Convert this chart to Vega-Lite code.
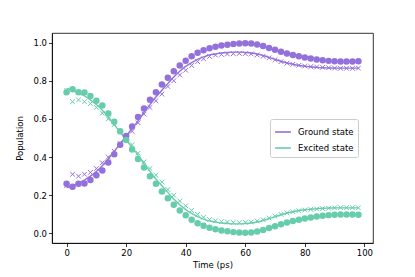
{
  "$schema": "https://vega.github.io/schema/vega-lite/v6.json",
  "autosize": {"type": "none"},
  "padding": {"left": 52, "top": 33, "right": 42, "bottom": 34},
  "width": 321,
  "height": 210,
  "config": {
    "font": "DejaVu Sans",
    "view": {"stroke": "black", "strokeWidth": 0.8},
    "axis": {"grid": false, "domainColor": "black", "domainWidth": 0.8, "tickColor": "black", "tickWidth": 0.8, "tickSize": 3.5, "labelFontSize": 8.5, "titleFontSize": 8.5, "labelColor": "black", "titleColor": "black", "titleFontWeight": "normal", "labelPadding": 2}
  },
  "data": {"values": [
    {"t":0,"state":"Ground state","line":0.24,"cross":0.25,"dot":0.26},
    {"t":2,"state":"Ground state","line":0.25,"cross":0.31,"dot":0.245},
    {"t":4,"state":"Ground state","line":0.265,"cross":0.30,"dot":0.26},
    {"t":6,"state":"Ground state","line":0.28,"cross":0.31,"dot":0.262},
    {"t":8,"state":"Ground state","line":0.30,"cross":0.32,"dot":0.28},
    {"t":10,"state":"Ground state","line":0.325,"cross":0.34,"dot":0.305},
    {"t":12,"state":"Ground state","line":0.355,"cross":0.37,"dot":0.33},
    {"t":14,"state":"Ground state","line":0.39,"cross":0.40,"dot":0.372},
    {"t":16,"state":"Ground state","line":0.43,"cross":0.43,"dot":0.415},
    {"t":18,"state":"Ground state","line":0.47,"cross":0.47,"dot":0.465},
    {"t":20,"state":"Ground state","line":0.51,"cross":0.50,"dot":0.51},
    {"t":22,"state":"Ground state","line":0.55,"cross":0.535,"dot":0.56},
    {"t":24,"state":"Ground state","line":0.59,"cross":0.58,"dot":0.61},
    {"t":26,"state":"Ground state","line":0.635,"cross":0.625,"dot":0.655},
    {"t":28,"state":"Ground state","line":0.675,"cross":0.66,"dot":0.70},
    {"t":30,"state":"Ground state","line":0.715,"cross":0.695,"dot":0.74},
    {"t":32,"state":"Ground state","line":0.75,"cross":0.73,"dot":0.78},
    {"t":34,"state":"Ground state","line":0.785,"cross":0.77,"dot":0.815},
    {"t":36,"state":"Ground state","line":0.82,"cross":0.80,"dot":0.85},
    {"t":38,"state":"Ground state","line":0.85,"cross":0.83,"dot":0.88},
    {"t":40,"state":"Ground state","line":0.875,"cross":0.855,"dot":0.905},
    {"t":42,"state":"Ground state","line":0.895,"cross":0.88,"dot":0.928},
    {"t":44,"state":"Ground state","line":0.912,"cross":0.90,"dot":0.947},
    {"t":46,"state":"Ground state","line":0.925,"cross":0.915,"dot":0.96},
    {"t":48,"state":"Ground state","line":0.935,"cross":0.927,"dot":0.97},
    {"t":50,"state":"Ground state","line":0.94,"cross":0.934,"dot":0.978},
    {"t":52,"state":"Ground state","line":0.945,"cross":0.938,"dot":0.984},
    {"t":54,"state":"Ground state","line":0.948,"cross":0.94,"dot":0.989},
    {"t":56,"state":"Ground state","line":0.95,"cross":0.942,"dot":0.993},
    {"t":58,"state":"Ground state","line":0.95,"cross":0.943,"dot":0.995},
    {"t":60,"state":"Ground state","line":0.948,"cross":0.942,"dot":0.996},
    {"t":62,"state":"Ground state","line":0.945,"cross":0.94,"dot":0.995},
    {"t":64,"state":"Ground state","line":0.94,"cross":0.935,"dot":0.99},
    {"t":66,"state":"Ground state","line":0.932,"cross":0.928,"dot":0.982},
    {"t":68,"state":"Ground state","line":0.922,"cross":0.92,"dot":0.972},
    {"t":70,"state":"Ground state","line":0.912,"cross":0.91,"dot":0.962},
    {"t":72,"state":"Ground state","line":0.902,"cross":0.90,"dot":0.952},
    {"t":74,"state":"Ground state","line":0.893,"cross":0.892,"dot":0.943},
    {"t":76,"state":"Ground state","line":0.886,"cross":0.886,"dot":0.935},
    {"t":78,"state":"Ground state","line":0.88,"cross":0.881,"dot":0.928},
    {"t":80,"state":"Ground state","line":0.876,"cross":0.877,"dot":0.922},
    {"t":82,"state":"Ground state","line":0.873,"cross":0.874,"dot":0.916},
    {"t":84,"state":"Ground state","line":0.87,"cross":0.872,"dot":0.911},
    {"t":86,"state":"Ground state","line":0.868,"cross":0.87,"dot":0.907},
    {"t":88,"state":"Ground state","line":0.867,"cross":0.868,"dot":0.904},
    {"t":90,"state":"Ground state","line":0.866,"cross":0.866,"dot":0.902},
    {"t":92,"state":"Ground state","line":0.866,"cross":0.865,"dot":0.901},
    {"t":94,"state":"Ground state","line":0.866,"cross":0.865,"dot":0.901},
    {"t":96,"state":"Ground state","line":0.866,"cross":0.865,"dot":0.901},
    {"t":98,"state":"Ground state","line":0.866,"cross":0.866,"dot":0.902},
    {"t":0,"state":"Excited state","line":0.76,"cross":0.75,"dot":0.74},
    {"t":2,"state":"Excited state","line":0.75,"cross":0.69,"dot":0.755},
    {"t":4,"state":"Excited state","line":0.735,"cross":0.70,"dot":0.74},
    {"t":6,"state":"Excited state","line":0.72,"cross":0.69,"dot":0.738},
    {"t":8,"state":"Excited state","line":0.70,"cross":0.68,"dot":0.72},
    {"t":10,"state":"Excited state","line":0.675,"cross":0.66,"dot":0.695},
    {"t":12,"state":"Excited state","line":0.645,"cross":0.63,"dot":0.67},
    {"t":14,"state":"Excited state","line":0.61,"cross":0.60,"dot":0.628},
    {"t":16,"state":"Excited state","line":0.57,"cross":0.57,"dot":0.585},
    {"t":18,"state":"Excited state","line":0.53,"cross":0.53,"dot":0.535},
    {"t":20,"state":"Excited state","line":0.49,"cross":0.50,"dot":0.49},
    {"t":22,"state":"Excited state","line":0.45,"cross":0.465,"dot":0.44},
    {"t":24,"state":"Excited state","line":0.41,"cross":0.42,"dot":0.39},
    {"t":26,"state":"Excited state","line":0.365,"cross":0.375,"dot":0.345},
    {"t":28,"state":"Excited state","line":0.325,"cross":0.34,"dot":0.30},
    {"t":30,"state":"Excited state","line":0.285,"cross":0.305,"dot":0.26},
    {"t":32,"state":"Excited state","line":0.25,"cross":0.27,"dot":0.22},
    {"t":34,"state":"Excited state","line":0.215,"cross":0.23,"dot":0.185},
    {"t":36,"state":"Excited state","line":0.18,"cross":0.20,"dot":0.15},
    {"t":38,"state":"Excited state","line":0.15,"cross":0.17,"dot":0.12},
    {"t":40,"state":"Excited state","line":0.125,"cross":0.145,"dot":0.095},
    {"t":42,"state":"Excited state","line":0.105,"cross":0.12,"dot":0.072},
    {"t":44,"state":"Excited state","line":0.088,"cross":0.10,"dot":0.053},
    {"t":46,"state":"Excited state","line":0.075,"cross":0.085,"dot":0.04},
    {"t":48,"state":"Excited state","line":0.065,"cross":0.073,"dot":0.03},
    {"t":50,"state":"Excited state","line":0.06,"cross":0.066,"dot":0.022},
    {"t":52,"state":"Excited state","line":0.055,"cross":0.062,"dot":0.016},
    {"t":54,"state":"Excited state","line":0.052,"cross":0.06,"dot":0.011},
    {"t":56,"state":"Excited state","line":0.05,"cross":0.058,"dot":0.007},
    {"t":58,"state":"Excited state","line":0.05,"cross":0.057,"dot":0.005},
    {"t":60,"state":"Excited state","line":0.052,"cross":0.058,"dot":0.004},
    {"t":62,"state":"Excited state","line":0.055,"cross":0.06,"dot":0.005},
    {"t":64,"state":"Excited state","line":0.06,"cross":0.065,"dot":0.01},
    {"t":66,"state":"Excited state","line":0.068,"cross":0.072,"dot":0.018},
    {"t":68,"state":"Excited state","line":0.078,"cross":0.08,"dot":0.028},
    {"t":70,"state":"Excited state","line":0.088,"cross":0.09,"dot":0.038},
    {"t":72,"state":"Excited state","line":0.098,"cross":0.10,"dot":0.048},
    {"t":74,"state":"Excited state","line":0.107,"cross":0.108,"dot":0.057},
    {"t":76,"state":"Excited state","line":0.114,"cross":0.114,"dot":0.065},
    {"t":78,"state":"Excited state","line":0.12,"cross":0.119,"dot":0.072},
    {"t":80,"state":"Excited state","line":0.124,"cross":0.123,"dot":0.078},
    {"t":82,"state":"Excited state","line":0.127,"cross":0.126,"dot":0.084},
    {"t":84,"state":"Excited state","line":0.13,"cross":0.128,"dot":0.089},
    {"t":86,"state":"Excited state","line":0.132,"cross":0.13,"dot":0.093},
    {"t":88,"state":"Excited state","line":0.133,"cross":0.132,"dot":0.096},
    {"t":90,"state":"Excited state","line":0.134,"cross":0.134,"dot":0.098},
    {"t":92,"state":"Excited state","line":0.134,"cross":0.135,"dot":0.099},
    {"t":94,"state":"Excited state","line":0.134,"cross":0.135,"dot":0.099},
    {"t":96,"state":"Excited state","line":0.134,"cross":0.135,"dot":0.099},
    {"t":98,"state":"Excited state","line":0.134,"cross":0.134,"dot":0.098}
  ]},
  "encoding": {
    "x": {"field": "t", "type": "quantitative", "title": "Time (ps)", "scale": {"domain": [-4.9, 102.9], "nice": false, "zero": false}, "axis": {"values": [0, 20, 40, 60, 80, 100], "titlePadding": 3}},
    "color": {"field": "state", "type": "nominal", "scale": {"domain": ["Ground state", "Excited state"], "range": ["#9370DB", "#66CDAA"]}, "legend": null}
  },
  "layer": [
    {
      "mark": {"type": "line", "strokeWidth": 1.4, "interpolate": "monotone"},
      "encoding": {
        "y": {"field": "line", "type": "quantitative", "title": "Population", "scale": {"domain": [-0.05, 1.05], "nice": false, "zero": false}, "axis": {"values": [0, 0.2, 0.4, 0.6, 0.8, 1.0], "format": ".1f", "titlePadding": 8}},
        "color": {"field": "state", "type": "nominal", "scale": {"domain": ["Ground state", "Excited state"], "range": ["#9370DB", "#66CDAA"]},
          "legend": {"title": null, "orient": "none", "legendX": 218, "legendY": 86, "symbolType": "stroke", "symbolStrokeWidth": 1.6, "symbolSize": 250, "labelFontSize": 8.5, "labelColor": "black", "strokeColor": "#cccccc", "fillColor": "white", "padding": 4, "cornerRadius": 2, "rowPadding": 2, "labelOffset": 6}}
      }
    },
    {
      "mark": {"type": "point", "shape": "M-1,-1L1,1M-1,1L1,-1", "filled": false, "size": 22, "strokeWidth": 1, "opacity": 1},
      "encoding": {"y": {"field": "cross", "type": "quantitative"}}
    },
    {
      "mark": {"type": "circle", "size": 42, "opacity": 1},
      "encoding": {"y": {"field": "dot", "type": "quantitative"}}
    }
  ]
}
